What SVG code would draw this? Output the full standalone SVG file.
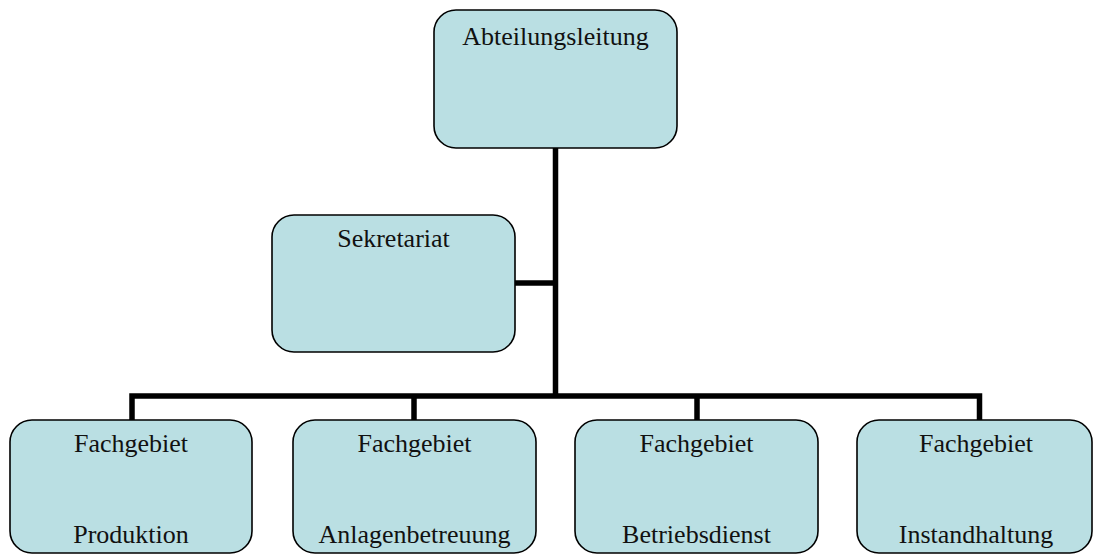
<svg xmlns="http://www.w3.org/2000/svg" width="1093" height="554" viewBox="0 0 1093 554">
<style>
.box{fill:#BADFE3;stroke:#000;stroke-width:1.6}
.lbl{font-family:"Liberation Serif","Times New Roman",serif;font-size:26px;fill:#111;text-anchor:middle}
.conn{fill:none;stroke:#000;stroke-width:5.5;stroke-linecap:butt;stroke-linejoin:miter}
</style>
<rect width="1093" height="554" fill="#fff"/>
<g id="connectors">
<path class="conn" d="M555.5 148 V396"/>
<path class="conn" d="M515 283 H555.5"/>
<path class="conn" d="M132 420 V396 H979.5 V420"/>
<path class="conn" d="M414 396 V420"/>
<path class="conn" d="M697 396 V420"/>
</g>
<g id="abteilungsleitung">
<rect class="box" x="434" y="10" width="243" height="138" rx="22"/>
<text class="lbl" x="555.5" y="45">Abteilungsleitung</text>
</g>
<g id="sekretariat">
<rect class="box" x="272" y="215" width="243" height="137" rx="22"/>
<text class="lbl" x="393.5" y="247">Sekretariat</text>
</g>
<g id="produktion">
<rect class="box" x="10" y="420" width="242" height="133" rx="22"/>
<text class="lbl" x="131" y="452">Fachgebiet</text>
<text class="lbl" x="131" y="543">Produktion</text>
</g>
<g id="anlagenbetreuung">
<rect class="box" x="293" y="420" width="243" height="133" rx="22"/>
<text class="lbl" x="414.5" y="452">Fachgebiet</text>
<text class="lbl" x="414.5" y="543">Anlagenbetreuung</text>
</g>
<g id="betriebsdienst">
<rect class="box" x="575" y="420" width="243" height="133" rx="22"/>
<text class="lbl" x="696.5" y="452">Fachgebiet</text>
<text class="lbl" x="696.5" y="543">Betriebsdienst</text>
</g>
<g id="instandhaltung">
<rect class="box" x="857" y="420" width="235" height="133" rx="22"/>
<text class="lbl" x="976" y="452">Fachgebiet</text>
<text class="lbl" x="976" y="543">Instandhaltung</text>
</g>
</svg>
